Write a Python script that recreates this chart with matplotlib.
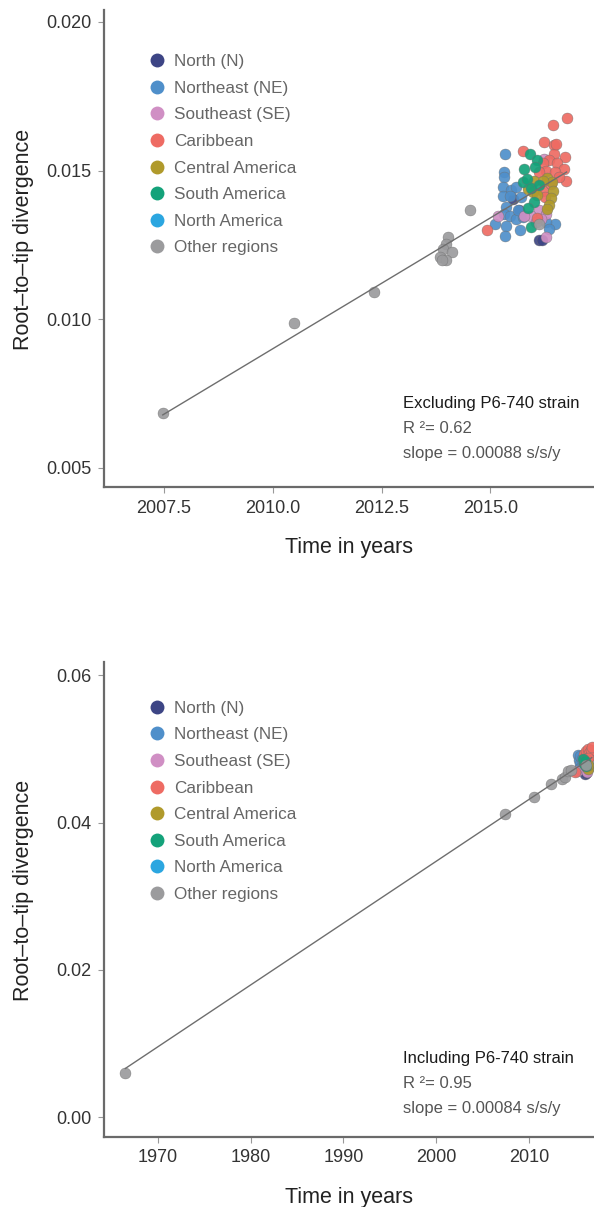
import numpy as np
import matplotlib
matplotlib.use("Agg")
import matplotlib.pyplot as plt
from matplotlib.lines import Line2D

plt.rcParams["font.family"] = ["Liberation Sans", "DejaVu Sans"]

# legend order / colours
regions = ["North (N)", "Northeast (NE)", "Southeast (SE)", "Caribbean",
           "Central America", "South America", "North America", "Other regions"]
colors = ["#3d4585", "#4f8fca", "#d08fc4", "#ee6b63",
          "#b09a2b", "#14a27a", "#2ba6e0", "#9b9b9d"]

# ---- top panel: excluding P6-740 ----
top_n_x = [2015.53, 2015.65, 2016.11, 2016.19]
top_n_y = [0.01405, 0.01368, 0.01267, 0.01267]

top_ne_x = [2015.34, 2015.32, 2015.31, 2015.28, 2015.47, 2015.59, 2015.28, 2015.44, 2015.70,
            2015.36, 2015.32, 2015.44, 2015.59, 2015.74, 2015.11, 2015.36, 2015.34, 2015.67,
            2016.49, 2016.28, 2016.35, 2015.63]
top_ne_y = [0.01556, 0.01494, 0.01478, 0.01444, 0.01435, 0.01444, 0.01416, 0.01416, 0.01411,
            0.01377, 0.01355, 0.01349, 0.01338, 0.01343, 0.01321, 0.01315, 0.01279, 0.01299,
            0.01319, 0.01327, 0.01304, 0.01366]

top_se_x = [2016.24, 2016.12, 2015.93, 2016.28, 2015.17, 2015.78, 2016.28, 2016.16, 2016.05]
top_se_y = [0.01539, 0.01366, 0.01349, 0.01355, 0.01349, 0.01349, 0.01276, 0.01338, 0.01327]

top_car_x = [2016.75, 2016.43, 2016.23, 2016.45, 2015.74, 2016.45, 2016.72, 2016.35, 2016.20,
             2016.54, 2016.70, 2016.28, 2016.49, 2016.74, 2016.20, 2016.26, 2016.07, 2014.92,
             2016.12, 2016.39, 2016.58, 2016.50]
top_car_y = [0.01676, 0.01654, 0.01596, 0.01586, 0.01567, 0.01556, 0.01547, 0.01534, 0.01525,
             0.01525, 0.01506, 0.01500, 0.01494, 0.01466, 0.01433, 0.01411, 0.01341, 0.01301,
             0.01494, 0.01455, 0.01478, 0.01588]

top_ca_x = [2016.01, 2015.86, 2015.97, 2016.31, 2016.41, 2016.43, 2016.06, 2016.39, 2016.35,
            2016.29, 2016.20]
top_ca_y = [0.01466, 0.01439, 0.01427, 0.01476, 0.01461, 0.01433, 0.01419, 0.01408, 0.01386,
            0.01371, 0.01466]

top_sa_x = [2015.92, 2016.07, 2015.78, 2016.03, 2015.74, 2015.83, 2015.93, 2016.01, 2015.86,
            2015.93, 2016.12]
top_sa_y = [0.01556, 0.01534, 0.01506, 0.01511, 0.01461, 0.01472, 0.01442, 0.01394, 0.01375,
            0.01310, 0.01450]

top_na_x = []
top_na_y = []

top_oth_x = [2007.47, 2010.48, 2012.32, 2014.02, 2013.98, 2013.90, 2014.11, 2013.83, 2013.99,
             2013.88, 2014.52, 2016.11]
top_oth_y = [0.00685, 0.00987, 0.01091, 0.01276, 0.01254, 0.01238, 0.01225, 0.01208, 0.01198,
             0.01198, 0.01368, 0.01319]

top_slope = 0.00088

# ---- bottom panel: including P6-740 ----
bot_n_x = [2015.55, 2016.05, 2016.15]
bot_n_y = [0.0475, 0.0466, 0.0467]

bot_ne_x = [2015.30, 2015.35, 2015.45, 2015.50, 2015.60, 2015.70, 2015.40, 2016.30, 2016.50]
bot_ne_y = [0.0492, 0.0485, 0.0480, 0.0490, 0.0476, 0.0487, 0.0473, 0.0479, 0.0476]

bot_se_x = [2015.20, 2016.10, 2016.25]
bot_se_y = [0.0470, 0.0472, 0.0469]

bot_car_x = [2015.90, 2016.10, 2016.20, 2016.40, 2016.45, 2016.60, 2016.70, 2016.75, 2016.30, 2014.90]
bot_car_y = [0.0493, 0.0497, 0.0484, 0.0500, 0.0495, 0.0490, 0.0498, 0.0502, 0.0488, 0.0468]

bot_ca_x = [2016.00, 2016.20, 2016.35, 2016.40]
bot_ca_y = [0.0480, 0.0476, 0.0473, 0.0478]

bot_sa_x = [2015.80, 2015.90, 2016.00, 2016.10]
bot_sa_y = [0.0486, 0.0479, 0.0483, 0.0477]

bot_na_x = []
bot_na_y = []

bot_oth_x = [1966.5, 2007.4, 2010.5, 2012.4, 2013.5, 2013.9, 2014.2, 2014.5, 2016.1]
bot_oth_y = [0.0060, 0.0412, 0.0435, 0.0452, 0.0459, 0.0462, 0.0470, 0.0472, 0.0478]

bot_slope = 0.00084


def panel(ax, xs, ys, slope, xlim, ylim, xticks, xlabels, yticks, ylabels,
          title, r2, slope_txt, text_y, leg_y):
    # points, drawn in legend order
    for x, y, c in zip(xs, ys, colors):
        if len(x):
            ax.scatter(x, y, s=62, color=c, edgecolor="#6f6f6f", linewidth=0.3,
                       alpha=0.92, zorder=3)
    # regression line through the mean with the reported slope
    allx = np.concatenate([np.array(x, float) for x in xs])
    ally = np.concatenate([np.array(y, float) for y in ys])
    b = ally.mean() - slope * allx.mean()
    lx = np.array([allx.min(), allx.max()])
    ax.plot(lx, b + slope * lx, color="#6e6e6e", lw=1.0, zorder=4)

    ax.set_xlim(*xlim)
    ax.set_ylim(*ylim)
    ax.set_xticks(xticks)
    ax.set_xticklabels(xlabels)
    ax.set_yticks(yticks)
    ax.set_yticklabels(ylabels)
    for s in ["top", "right"]:
        ax.spines[s].set_visible(False)
    for s in ["left", "bottom"]:
        ax.spines[s].set_color("#6a6a6a")
        ax.spines[s].set_linewidth(1.6)
    ax.tick_params(length=4, width=0.8, color="#999999", labelsize=13,
                   labelcolor="#333333", pad=5)
    ax.set_xlabel("Time in years", fontsize=15.5, color="#222222", labelpad=15)
    ax.set_ylabel("Root\u2013to\u2013tip divergence", fontsize=15.5, color="#222222")
    ax.yaxis.set_label_coords(-0.142, 0.52)

    handles = [Line2D([], [], marker="o", ls="", ms=10, color=c, markeredgewidth=0)
               for c in colors]
    ax.legend(handles, regions, loc="upper left", bbox_to_anchor=(0.06, leg_y),
              frameon=False, fontsize=12.3, labelcolor="#666666", handletextpad=0.0,
              labelspacing=0.68, borderaxespad=0)

    ax.text(0.61, text_y, title, transform=ax.transAxes, fontsize=12, color="#1a1a1a")
    ax.text(0.61, text_y - 0.0525, "R \u00b2= " + r2, transform=ax.transAxes, fontsize=12,
            color="#555555")
    ax.text(0.61, text_y - 0.105, "slope = " + slope_txt, transform=ax.transAxes, fontsize=12,
            color="#555555")


fig = plt.figure(figsize=(5.94, 12.07), dpi=100)
ax1 = fig.add_axes([0.1751, 0.5965, 0.8249, 0.3952])
ax2 = fig.add_axes([0.1751, 0.058, 0.8249, 0.3935])

panel(ax1,
      [top_n_x, top_ne_x, top_se_x, top_car_x, top_ca_x, top_sa_x, top_na_x, top_oth_x],
      [top_n_y, top_ne_y, top_se_y, top_car_y, top_ca_y, top_sa_y, top_na_y, top_oth_y],
      top_slope, (2006.12, 2017.38), (0.00436, 0.0204),
      [2007.5, 2010.0, 2012.5, 2015.0], ["2007.5", "2010.0", "2012.5", "2015.0"],
      [0.005, 0.010, 0.015, 0.020], ["0.005", "0.010", "0.015", "0.020"],
      "Excluding P6-740 strain", "0.62", "0.00088 s/s/y", 0.166, 0.922)

panel(ax2,
      [bot_n_x, bot_ne_x, bot_se_x, bot_car_x, bot_ca_x, bot_sa_x, bot_na_x, bot_oth_x],
      [bot_n_y, bot_ne_y, bot_se_y, bot_car_y, bot_ca_y, bot_sa_y, bot_na_y, bot_oth_y],
      bot_slope, (1964.2, 2017.0), (-0.0027, 0.0618),
      [1970, 1980, 1990, 2000, 2010], ["1970", "1980", "1990", "2000", "2010"],
      [0.00, 0.02, 0.04, 0.06], ["0.00", "0.02", "0.04", "0.06"],
      "Including P6-740 strain", "0.95", "0.00084 s/s/y", 0.155, 0.933)

fig.savefig("out.png", dpi=100)
